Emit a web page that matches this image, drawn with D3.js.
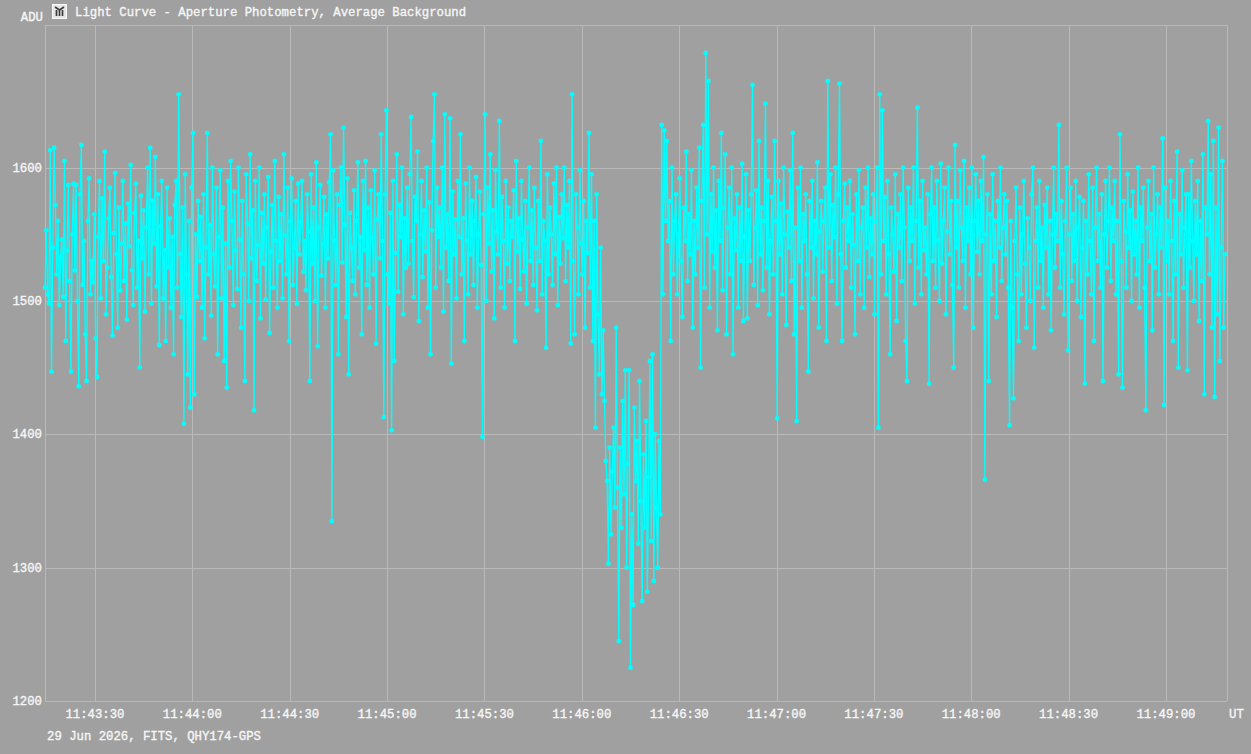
<!DOCTYPE html>
<html>
<head>
<meta charset="utf-8">
<script src="https://cdn.jsdelivr.net/npm/d3@7"></script>
<style>
  html, body { margin: 0; padding: 0; background: #a0a0a0; }
  svg { display: block; }
  text {
    font-family: "Liberation Mono", "Courier New", monospace;
    font-size: 12.3px;
    fill: #f6f6f6;
    stroke: #f6f6f6;
    stroke-width: 0.35px;
  }
</style>
</head>
<body>
<svg id="chart" width="1251" height="754"></svg>
<script>
// Chart texts
const titleText = 'Light Curve - Aperture Photometry, Average Background'
const yUnit = 'ADU'
const xUnit = 'UT'
const footerText = '29 Jun 2026, FITS, QHY174-GPS'

// Sampling: first frame time and exposure cadence (seconds)
const startTime = Date.UTC(2026, 5, 29, 11, 43, 14, 600)
const endTime = Date.UTC(2026, 5, 29, 11, 49, 18, 800)
const cadence = 0.4

const yTicks = [1200, 1300, 1400, 1500, 1600]
const yDomain = [1200, 1707]

const adu = [
  1510,1553,1505,1498,1613,1447,1540,1615,1572,1520,1560,1497,1533,1546,1503,1605,1470,1538,1587,1515,
  1447,1550,1588,1523,1587,1500,1436,1580,1617,1512,1545,1475,1440,1560,1592,1505,1530,1514,1565,1472,
  1443,1548,1590,1502,1577,1530,1612,1490,1525,1562,1585,1518,1474,1551,1596,1535,1480,1570,1508,1543,
  1590,1515,1558,1486,1573,1541,1602,1523,1497,1566,1588,1510,1545,1450,1579,1532,1568,1492,1555,1600,
  1520,1615,1498,1575,1543,1608,1511,1580,1467,1556,1590,1502,1538,1470,1585,1525,1562,1495,1548,1460,
  1572,1590,1510,1655,1535,1488,1570,1408,1595,1520,1445,1560,1420,1585,1626,1430,1550,1503,1575,1530,
  1563,1495,1580,1472,1540,1626,1520,1557,1489,1600,1535,1511,1585,1460,1548,1598,1502,1570,1455,1543,
  1435,1590,1525,1605,1560,1497,1582,1538,1509,1600,1546,1480,1575,1520,1440,1595,1558,1500,1610,1532,
  1568,1418,1590,1515,1542,1600,1487,1566,1528,1580,1501,1555,1593,1476,1537,1572,1510,1605,1545,1495,
  1578,1530,1565,1502,1610,1549,1520,1585,1470,1560,1592,1512,1540,1575,1498,1588,1535,1559,1590,1522,
  1545,1508,1580,1552,1440,1595,1528,1570,1500,1604,1466,1555,1587,1519,1543,1578,1495,1565,1532,1589,
  1625,1335,1598,1545,1512,1580,1460,1572,1600,1529,1630,1557,1488,1592,1445,1566,1540,1515,1583,1505,
  1560,1604,1525,1548,1475,1590,1538,1605,1512,1570,1495,1583,1547,1520,1598,1468,1561,1580,1532,1625,
  1545,1413,1580,1643,1520,1498,1566,1403,1590,1455,1536,1610,1507,1572,1548,1600,1490,1562,1525,1585,
  1528,1595,1638,1545,1503,1578,1560,1612,1485,1550,1590,1518,1568,1537,1600,1495,1574,1460,1553,1620,
  1655,1510,1585,1548,1570,1525,1600,1492,1640,1540,1565,1515,1637,1453,1582,1535,1561,1502,1590,1548,
  1625,1520,1562,1470,1588,1545,1505,1600,1535,1575,1512,1560,1593,1495,1550,1582,1527,1398,1565,1640,
  1500,1585,1543,1610,1522,1568,1487,1598,1552,1535,1635,1510,1578,1545,1495,1590,1528,1570,1515,1560,
  1548,1583,1470,1605,1537,1562,1509,1590,1546,1522,1575,1498,1555,1600,1530,1568,1512,1585,1540,1493,
  1575,1530,1620,1505,1560,1545,1465,1595,1520,1570,1550,1512,1588,1535,1600,1497,1563,1528,1580,1547,
  1600,1515,1572,1540,1590,1468,1655,1530,1475,1580,1555,1505,1598,1543,1520,1575,1480,1560,1536,1626,
  1510,1595,1470,1560,1405,1580,1490,1445,1540,1430,1478,1425,1380,1365,1303,1390,1325,1372,1405,1345,
  1480,1360,1245,1390,1330,1425,1355,1448,1300,1378,1448,1225,1340,1272,1420,1365,1395,1318,1440,1350,
  1275,1385,1330,1410,1282,1368,1455,1320,1460,1290,1400,1345,1300,1395,1340,1632,1505,1628,1560,1620,
  1545,1575,1470,1600,1520,1560,1580,1505,1550,1592,1530,1488,1570,1545,1612,1515,1565,1535,1598,1480,
  1560,1520,1585,1540,1615,1450,1575,1632,1510,1686,1550,1665,1495,1580,1537,1600,1525,1568,1478,1590,
  1545,1626,1508,1570,1610,1475,1555,1585,1520,1600,1460,1562,1538,1580,1495,1570,1530,1603,1485,1548,
  1595,1487,1568,1530,1580,1662,1512,1555,1583,1497,1620,1535,1570,1508,1560,1648,1525,1590,1490,1545,
  1578,1520,1620,1560,1412,1590,1535,1573,1505,1600,1550,1482,1567,1540,1598,1515,1626,1475,1555,1410,
  1585,1530,1600,1495,1565,1545,1580,1520,1447,1575,1540,1590,1502,1560,1535,1604,1480,1552,1575,1522,
  1560,1585,1470,1665,1540,1595,1515,1572,1548,1600,1498,1580,1663,1535,1470,1560,1588,1525,1570,1545,
  1590,1510,1565,1542,1475,1580,1530,1598,1505,1555,1570,1495,1585,1540,1600,1518,1562,1535,1580,1490,
  1560,1600,1405,1655,1520,1643,1545,1578,1505,1590,1535,1460,1570,1550,1522,1595,1485,1565,1540,1580,
  1515,1600,1555,1470,1440,1585,1530,1570,1545,1600,1498,1560,1645,1525,1575,1505,1590,1538,1555,1520,
  1580,1438,1565,1600,1530,1570,1510,1590,1545,1500,1603,1528,1560,1585,1490,1552,1600,1535,1575,1512,
  1450,1617,1540,1575,1510,1598,1555,1530,1605,1495,1570,1545,1585,1520,1600,1480,1560,1595,1537,1575,
  1520,1590,1545,1608,1366,1550,1580,1440,1565,1505,1595,1530,1560,1488,1575,1540,1600,1515,1555,1580,
  1535,1575,1510,1407,1560,1495,1427,1545,1585,1520,1470,1570,1505,1550,1590,1528,1480,1562,1540,1500,
  1580,1600,1465,1545,1570,1510,1590,1530,1555,1495,1572,1540,1585,1505,1560,1478,1550,1600,1525,1565,
  1545,1632,1510,1575,1535,1490,1560,1600,1463,1550,1585,1515,1565,1530,1590,1500,1555,1578,1488,1540,
  1575,1438,1560,1520,1595,1545,1505,1585,1470,1555,1600,1530,1565,1510,1580,1440,1550,1590,1525,1560,
  1600,1515,1570,1545,1590,1505,1560,1445,1625,1530,1435,1575,1552,1510,1595,1540,1568,1500,1582,1535,
  1560,1520,1600,1495,1570,1545,1585,1510,1418,1555,1590,1530,1565,1478,1600,1525,1550,1580,1505,1570,
  1540,1622,1422,1585,1530,1560,1505,1590,1545,1470,1575,1520,1612,1450,1565,1535,1598,1510,1555,1580,
  1448,1580,1525,1605,1545,1500,1575,1535,1590,1485,1560,1515,1610,1430,1570,1550,1635,1520,1595,1480,
  1620,1428,1570,1490,1630,1455,1540,1605,1480,1535
]

const points = adu.map((v, i) => ({ t: new Date(startTime + i * cadence * 1000), v }))

const svg = d3.select('#chart')
const plot = { left: 45, right: 1227, top: 25, bottom: 701 }

const x = d3.scaleUtc()
  .domain([new Date(startTime), new Date(endTime)])
  .range([plot.left, plot.right])

const y = d3.scaleLinear()
  .domain(yDomain)
  .range([plot.bottom, plot.top])

const gridColor = '#b9b9b9'

// Grid
const xTicks = x.ticks(d3.utcSecond.every(30))
svg.append('g')
  .selectAll('line')
  .data(xTicks)
  .join('line')
  .attr('x1', d => Math.round(x(d)) + 0.5)
  .attr('x2', d => Math.round(x(d)) + 0.5)
  .attr('y1', plot.top)
  .attr('y2', plot.bottom)
  .attr('stroke', gridColor)

svg.append('g')
  .selectAll('line')
  .data(yTicks)
  .join('line')
  .attr('x1', plot.left)
  .attr('x2', plot.right)
  .attr('y1', d => Math.round(y(d)) + 0.5)
  .attr('y2', d => Math.round(y(d)) + 0.5)
  .attr('stroke', gridColor)

// Frame (top, left, right)
svg.append('path')
  .attr('d', `M${plot.left + 0.5},${plot.bottom}V${plot.top + 0.5}H${plot.right + 0.5}V${plot.bottom}`)
  .attr('fill', 'none')
  .attr('stroke', gridColor)

// Tick labels
const fmt = d3.utcFormat('%H:%M:%S')
svg.append('g')
  .selectAll('text')
  .data(xTicks)
  .join('text')
  .attr('x', d => x(d))
  .attr('y', 718)
  .attr('text-anchor', 'middle')
  .text(fmt)

svg.append('g')
  .selectAll('text')
  .data(yTicks)
  .join('text')
  .attr('x', 42)
  .attr('y', d => y(d) + 4)
  .attr('text-anchor', 'end')
  .text(d => d)

svg.append('text').attr('x', 43).attr('y', 21).attr('text-anchor', 'end').text(yUnit)
svg.append('text').attr('x', 1229).attr('y', 718).text(xUnit)
svg.append('text').attr('x', 47).attr('y', 740).text(footerText)
svg.append('text').attr('x', 75).attr('y', 16).text(titleText)

// Small app icon next to the title
const icon = svg.append('g').attr('transform', 'translate(52,4)')
icon.append('rect').attr('x', 0.5).attr('y', 0.5).attr('width', 14).attr('height', 14)
  .attr('fill', '#e6e6e6').attr('stroke', '#f8f8f8')
icon.append('path')
  .attr('d', 'M3,3L7.5,6L12,3M4.5,6V12M7.5,6V12M10.5,6V12')
  .attr('fill', 'none')
  .attr('stroke', '#3c3c3c')
  .attr('stroke-width', 1.7)

// Light curve
const line = d3.line()
  .x(d => x(d.t))
  .y(d => y(d.v))

svg.append('path')
  .datum(points)
  .attr('fill', 'none')
  .attr('stroke', '#00ffff')
  .attr('stroke-width', 1.35)
  .attr('d', line)

svg.append('g')
  .selectAll('circle')
  .data(points)
  .join('circle')
  .attr('cx', d => x(d.t))
  .attr('cy', d => y(d.v))
  .attr('r', 2.4)
  .attr('fill', '#00ffff')
</script>
</body>
</html>
